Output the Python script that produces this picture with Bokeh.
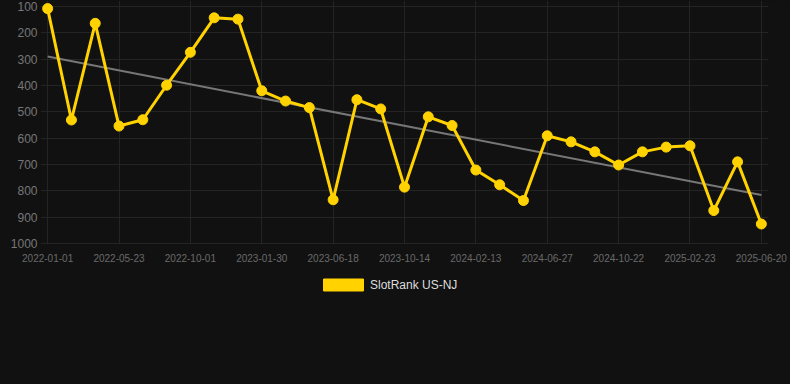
import numpy as np
from bokeh.plotting import figure
from bokeh.layouts import column
from bokeh.models import Range1d, FixedTicker, Legend, LegendItem, ColumnDataSource
from bokeh.embed import file_html
from bokeh.resources import INLINE

# ---- data ----
tick_labels = ["2022-01-01", "2022-05-23", "2022-10-01", "2023-01-30", "2023-06-18",
               "2023-10-14", "2024-02-13", "2024-06-27", "2024-10-22", "2025-02-23",
               "2025-06-20"]
rank_values = [108, 531, 164, 554, 530, 399, 274, 143, 148, 420, 459, 484, 834, 454, 489,
               786, 519, 552, 721, 777, 837, 591, 614, 652, 702, 652, 634, 629, 875, 690, 926]
series_name = "SlotRank US-NJ"

idx = list(range(len(rank_values)))
tick_pos = idx[::3]

BG = "#111111"
GOLD = "#FFD200"
FONT = "Liberation Sans"

p = figure(width=790, height=270, output_backend="svg", toolbar_location=None,
           x_range=Range1d(-0.3, len(rank_values) - 1 + 0.3),
           y_range=Range1d(1003.8, 77.2),
           background_fill_color=BG, border_fill_color=BG,
           min_border_left=40, min_border_right=22, min_border_top=0, min_border_bottom=26)
p.outline_line_color = None

# grids
p.xgrid.grid_line_color = "#242424"
p.ygrid.grid_line_color = "#242424"

# axes
p.xaxis.ticker = FixedTicker(ticks=tick_pos)
p.xaxis.major_label_overrides = {pos: lab for pos, lab in zip(tick_pos, tick_labels)}
p.yaxis.ticker = FixedTicker(ticks=list(range(100, 1001, 100)))
for ax in (p.xaxis, p.yaxis):
    ax.axis_line_color = None
    ax.major_tick_line_color = None
    ax.minor_tick_line_color = None
    ax.major_tick_out = 0
    ax.major_tick_in = 0
    ax.major_label_text_font = FONT
p.xaxis.major_label_text_font_size = "10px"
p.xaxis.major_label_text_color = "#6a6a6a"
p.xaxis.major_label_standoff = 9
p.yaxis.major_label_text_font_size = "12px"
p.yaxis.major_label_text_color = "#777777"
p.yaxis.major_label_standoff = 3

# trend line (least squares over the series)
coef = np.polyfit(idx, rank_values, 1)
trend = [coef[0] * i + coef[1] for i in idx]
p.line([idx[0], idx[-1]], [trend[0], trend[-1]], line_color="#777777", line_width=2)

# series
src = ColumnDataSource(dict(x=idx, y=rank_values))
p.line("x", "y", source=src, line_color=GOLD, line_width=3)
p.scatter("x", "y", source=src, size=10, fill_color=GOLD, line_color=GOLD)

# legend strip below the chart
lg = figure(width=790, height=114, output_backend="svg", toolbar_location=None,
            x_range=Range1d(0, 1), y_range=Range1d(0, 1),
            background_fill_color=BG, border_fill_color=BG,
            min_border=0, x_axis_type=None, y_axis_type=None)
lg.outline_line_color = None
lg.grid.visible = False
swatch = lg.quad(left=[2], right=[2], top=[2], bottom=[2], fill_color=GOLD, line_color=GOLD)
legend = Legend(items=[LegendItem(label=series_name, renderers=[swatch])],
                location=(278, 92), orientation="horizontal",
                glyph_width=50, glyph_height=15, label_standoff=2,
                padding=0, margin=0, spacing=0,
                background_fill_alpha=0, border_line_color=None,
                label_text_font=FONT, label_text_font_size="12px",
                label_text_color="#dddddd")
lg.add_layout(legend, "center")

layout = column(p, lg, spacing=0)
html = file_html(layout, INLINE)
style = "<style>html, body { background: #111111 !important; }</style>"
html = html.replace("</head>", style + "</head>", 1)
open("out.html", "w").write(html)
